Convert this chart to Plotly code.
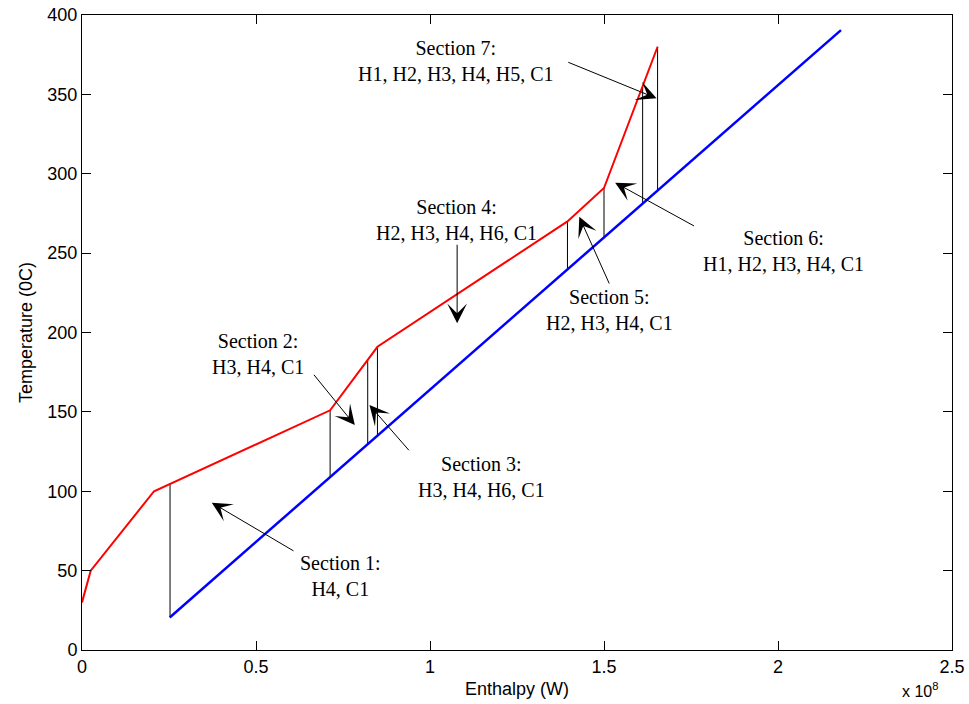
import numpy as np
import plotly.graph_objects as go

# Hot composite curve (enthalpy in 1e8 W, temperature in C)
hot_h = [0.0, 0.025, 0.207, 0.713, 0.849, 1.395, 1.500, 1.654]
hot_t = [30, 50, 100, 151, 191, 270, 291, 380]

# Cold composite curve
cold_h = [0.252, 2.181]
cold_t = [20.5, 390.5]

# Section boundaries (enthalpy)
bounds_h = [0.253, 0.713, 0.821, 0.849, 1.395, 1.500, 1.611, 1.654]

# Section labels: text, text position, arrow tail, arrow head
sec_text = ["Section 1:<br>H4, C1",
            "Section 2:<br>H3, H4, C1",
            "Section 3:<br>H3, H4, H6, C1",
            "Section 4:<br>H2, H3, H4, H6, C1",
            "Section 5:<br>H2, H3, H4, C1",
            "Section 6:<br>H1, H2, H3, H4, C1",
            "Section 7:<br>H1, H2, H3, H4, H5, C1"]
sec_tx = [0.744, 0.506, 1.149, 1.076, 1.517, 2.017, 1.076]
sec_ty = [46.9, 186.5, 108.7, 270.9, 214.2, 251.3, 370.9]
tail_x = [0.612, 0.663, 0.943, 1.078, 1.517, 1.763, 1.393]
tail_y = [61.9, 174.3, 124.9, 256.2, 229.9, 266.6, 370.6]
head_x = [0.373, 0.784, 0.826, 1.078, 1.429, 1.532, 1.651]
head_y = [92.8, 141.7, 154.3, 205.8, 272.9, 294.4, 347.5]

x_ticks = [0, 0.5, 1, 1.5, 2, 2.5]
x_ticklabels = ["0", "0.5", "1", "1.5", "2", "2.5"]
y_ticks = [0, 50, 100, 150, 200, 250, 300, 350, 400]

fig = go.Figure()

# vertical section lines from hot to cold curve
vx, vy = [], []
for b in bounds_h:
    top = float(np.interp(b, hot_h, hot_t))
    bot = float(np.interp(b, cold_h, cold_t))
    vx += [b, b, None]
    vy += [top, bot, None]
fig.add_trace(go.Scatter(x=vx, y=vy, mode="lines",
                         line=dict(color="black", width=1), showlegend=False))

fig.add_trace(go.Scatter(x=hot_h, y=hot_t, mode="lines",
                         line=dict(color="#ff0000", width=2), showlegend=False))
fig.add_trace(go.Scatter(x=cold_h, y=cold_t, mode="lines",
                         line=dict(color="#0000ff", width=2.5), showlegend=False))

serif = dict(family="Liberation Serif, Times New Roman, serif", size=20, color="black")
for i in range(len(sec_text)):
    fig.add_annotation(x=sec_tx[i], y=sec_ty[i], text=sec_text[i], showarrow=False,
                       font=serif, xanchor="center", yanchor="middle")
    fig.add_annotation(x=head_x[i], y=head_y[i], ax=tail_x[i], ay=tail_y[i],
                       xref="x", yref="y", axref="x", ayref="y", text="",
                       showarrow=True, arrowhead=3, arrowsize=3.3, arrowwidth=1,
                       arrowcolor="black", standoff=0, startstandoff=0)

fig.add_annotation(x=0.963, y=-0.082, xref="paper", yref="paper",
                   text="x 10<sup>8</sup>", showarrow=False, xanchor="center", yanchor="bottom",
                   font=dict(family="Liberation Sans, Arial, sans-serif", size=16, color="black"))

axis_common = dict(showgrid=False, zeroline=False, showline=True, linecolor="black",
                   linewidth=1, mirror="ticks", ticks="inside", ticklen=9,
                   tickcolor="black", tickwidth=1, automargin=False,
                   tickfont=dict(family="Liberation Sans, Arial, sans-serif", size=18, color="black"))

fig.update_layout(
    width=969, height=704,
    margin=dict(l=82, r=17, t=15, b=54),
    paper_bgcolor="white", plot_bgcolor="white",
    xaxis=dict(range=[0, 2.5], tickvals=x_ticks, ticktext=x_ticklabels,
               title=dict(text="Enthalpy (W)", standoff=6,
                          font=dict(family="Liberation Sans, Arial, sans-serif", size=18, color="black")),
               **axis_common),
    yaxis=dict(range=[0, 400], tickvals=y_ticks,
               title=dict(text="Temperature (0C)", standoff=10,
                          font=dict(family="Liberation Sans, Arial, sans-serif", size=18, color="black")),
               **axis_common),
)

fig.write_html("out.html")
